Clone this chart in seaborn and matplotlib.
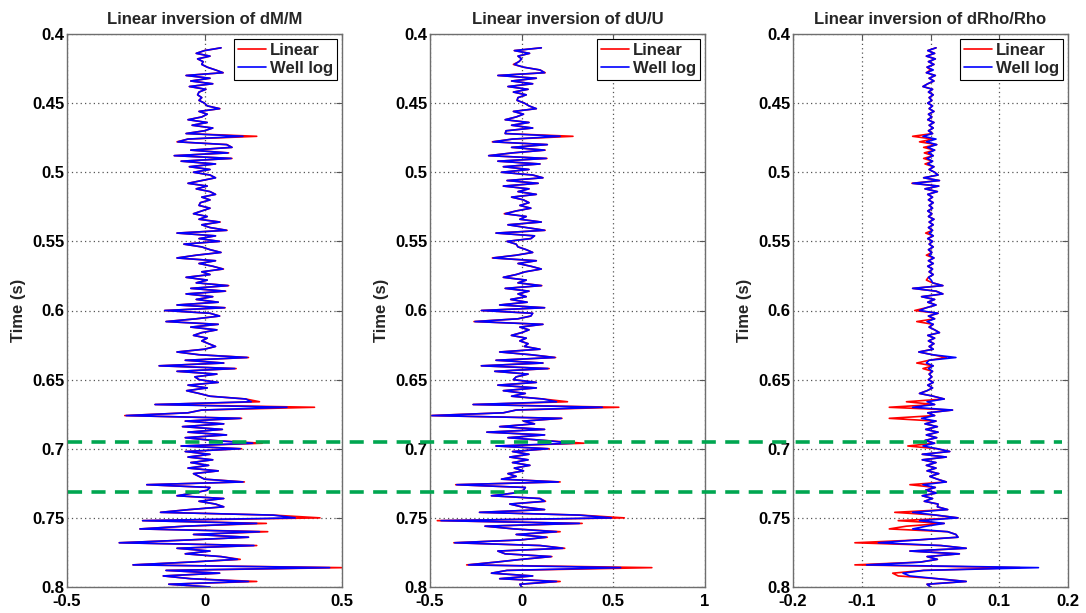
import numpy as np
import pandas as pd
import matplotlib
matplotlib.use("Agg")
import matplotlib.pyplot as plt
import seaborn as sns
from matplotlib.lines import Line2D

# Two-way time samples (s), 2 ms spacing
time_s = np.round(np.arange(0.410, 0.8001, 0.002), 3)

# ---- dM/M -------------------------------------------------------------
dm_well = [
    0.06, 0.00, -0.03, 0.02, -0.025, -0.005, -0.01, 0.01, 0.04, 0.067,
    -0.067, 0.02, -0.05, 0.03, -0.055, 0.005, -0.02, -0.025, -0.01, -0.02,
    0.00, 0.01, 0.055, -0.02, 0.01, -0.01, -0.06, 0.01, -0.045, 0.03,
    0.00, -0.067, 0.14, -0.06, -0.097, 0.08, 0.10, -0.05, 0.085, -0.11,
    0.097, -0.085, 0.04, -0.055, 0.02, -0.04, 0.02, 0.04, -0.01, -0.06,
    0.01, -0.03, 0.02, 0.04, -0.01, 0.02, -0.015, -0.02, 0.02, -0.01,
    -0.04, 0.01, -0.02, 0.055, -0.01, 0.02, 0.08, -0.10, 0.04, -0.02,
    0.055, -0.075, -0.01, 0.02, 0.06, -0.03, -0.10, 0.04, -0.02, 0.03,
    0.067, -0.01, 0.02, -0.067, 0.01, -0.03, 0.085, -0.05, 0.075, -0.067,
    0.03, -0.03, 0.05, -0.10, 0.073, -0.145, 0.02, 0.055, -0.03, -0.14,
    0.05, -0.05, 0.045, -0.01, -0.04, 0.01, -0.01, 0.015, 0.04, 0.00,
    -0.10, -0.02, 0.155, -0.07, 0.07, -0.165, 0.11, -0.10, 0.045, -0.035,
    -0.02, 0.05, -0.06, 0.01, -0.065, -0.02, 0.02, 0.15, 0.17, -0.18,
    0.30, -0.01, -0.06, -0.285, 0.13, -0.07, 0.07, -0.08, 0.065, -0.06,
    0.08, -0.07, 0.03, 0.175, -0.085, 0.13, -0.07, 0.02, -0.06, 0.03,
    -0.05, 0.015, -0.06, 0.05, -0.04, -0.02, 0.00, 0.14, -0.21, 0.02,
    0.01, -0.04, -0.10, 0.07, -0.02, 0.04, 0.07, -0.055, -0.16, 0.25,
    0.33, -0.225, 0.19, -0.07, -0.235, 0.20, -0.04, 0.16, -0.06, -0.31,
    0.18, -0.10, 0.02, -0.07, 0.06, 0.12, -0.055, -0.26, 0.455, -0.14,
    0.055, -0.15, -0.05, 0.16, -0.13, 0.02,
]
dm_linear = [
    0.06, 0.00, -0.03, 0.02, -0.025, -0.005, -0.01, 0.01, 0.04, 0.068,
    -0.067, 0.02, -0.05, 0.03, -0.055, 0.005, -0.02, -0.025, -0.01, -0.02,
    0.00, 0.01, 0.056, -0.02, 0.01, -0.01, -0.06, 0.01, -0.045, 0.03,
    0.00, -0.067, 0.19, -0.06, -0.10, 0.082, 0.10, -0.05, 0.088, -0.11,
    0.10, -0.085, 0.04, -0.055, 0.02, -0.04, 0.02, 0.04, -0.01, -0.06,
    0.01, -0.03, 0.02, 0.04, -0.01, 0.02, -0.015, -0.02, 0.02, -0.01,
    -0.04, 0.01, -0.02, 0.057, -0.01, 0.02, 0.082, -0.10, 0.04, -0.02,
    0.055, -0.075, -0.01, 0.02, 0.06, -0.03, -0.10, 0.04, -0.02, 0.03,
    0.069, -0.01, 0.02, -0.067, 0.01, -0.03, 0.088, -0.05, 0.077, -0.067,
    0.03, -0.03, 0.05, -0.10, 0.075, -0.145, 0.02, 0.055, -0.03, -0.14,
    0.05, -0.05, 0.045, -0.01, -0.04, 0.01, -0.01, 0.015, 0.04, 0.00,
    -0.10, -0.02, 0.16, -0.07, 0.07, -0.165, 0.115, -0.10, 0.045, -0.035,
    -0.02, 0.05, -0.06, 0.01, -0.065, -0.02, 0.02, 0.15, 0.20, -0.18,
    0.40, -0.01, -0.06, -0.29, 0.135, -0.07, 0.07, -0.08, 0.065, -0.06,
    0.08, -0.07, 0.03, 0.21, -0.085, 0.135, -0.07, 0.02, -0.06, 0.03,
    -0.05, 0.015, -0.06, 0.05, -0.04, -0.02, 0.00, 0.145, -0.21, 0.02,
    0.01, -0.04, -0.10, 0.07, -0.02, 0.04, 0.07, -0.055, -0.16, 0.25,
    0.42, -0.225, 0.225, -0.07, -0.235, 0.23, -0.04, 0.16, -0.06, -0.31,
    0.19, -0.10, 0.02, -0.07, 0.06, 0.13, -0.055, -0.26, 0.50, -0.14,
    0.055, -0.15, -0.05, 0.19, -0.13, 0.02,
]

# ---- dU/U -------------------------------------------------------------
du_well = [
    0.107, -0.04, 0.043, -0.02, 0.0, -0.015, -0.04, 0.01, 0.10, 0.125,
    -0.13, 0.08, -0.055, 0.06, -0.075, 0.035, -0.045, 0.025, -0.02, -0.025,
    0.015, 0.04, 0.08, -0.045, 0.01, -0.03, -0.09, 0.04, -0.055, 0.06,
    -0.085, -0.09, 0.21, -0.05, -0.156, 0.14, -0.055, 0.125, -0.05, -0.18,
    0.134, -0.13, 0.10, -0.10, 0.04, -0.11, 0.06, 0.116, -0.08, 0.09,
    -0.10, 0.04, -0.02, 0.08, -0.055, 0.01, 0.04, -0.01, 0.05, -0.03,
    -0.09, 0.025, -0.01, 0.107, -0.075, 0.025, 0.125, -0.14, 0.07, 0.05,
    -0.08, -0.03, -0.02, 0.025, 0.06, -0.03, -0.156, 0.08, -0.02, 0.05,
    0.107, 0.02, -0.03, -0.10, 0.025, -0.02, 0.107, -0.09, 0.04, -0.02,
    0.025, -0.06, 0.03, -0.12, 0.125, -0.22, 0.06, 0.05, -0.02, -0.255,
    0.116, -0.01, 0.04, 0.0, -0.056, 0.025, -0.01, 0.035, 0.015, 0.10,
    -0.12, 0.05, 0.18, -0.14, 0.116, -0.22, 0.143, -0.147, 0.035, -0.03,
    -0.045, 0.08, -0.13, 0.08, -0.10, 0.02, -0.055, 0.116, 0.19, -0.265,
    0.44, -0.03, -0.10, -0.49, 0.216, 0.01, 0.07, -0.12, 0.125, -0.19,
    0.125, -0.075, 0.125, 0.28, -0.14, 0.143, -0.05, 0.04, -0.065, 0.035,
    -0.05, 0.045, -0.04, 0.01, -0.075, -0.03, -0.11, 0.20, -0.355, 0.02,
    0.01, -0.04, -0.165, 0.10, 0.125, -0.065, 0.0, 0.125, -0.23, 0.315,
    0.49, -0.44, 0.315, -0.20, -0.04, 0.19, -0.03, 0.134, -0.01, -0.365,
    0.10, 0.225, -0.13, -0.09, 0.16, 0.0, -0.14, -0.29, 0.54, -0.08,
    -0.165, 0.06, -0.12, 0.19, -0.01, 0.0,
]
du_linear = [
    0.107, -0.04, 0.043, -0.02, 0.0, -0.015, -0.045, 0.01, 0.10, 0.128,
    -0.13, 0.08, -0.055, 0.06, -0.075, 0.035, -0.045, 0.025, -0.02, -0.025,
    0.015, 0.04, 0.08, -0.045, 0.01, -0.03, -0.09, 0.04, -0.055, 0.06,
    -0.085, -0.09, 0.28, -0.05, -0.16, 0.14, -0.055, 0.128, -0.05, -0.18,
    0.138, -0.13, 0.10, -0.10, 0.04, -0.11, 0.06, 0.116, -0.08, 0.09,
    -0.10, 0.04, -0.02, 0.08, -0.055, 0.01, 0.04, -0.01, 0.05, -0.03,
    -0.095, 0.025, -0.01, 0.107, -0.075, 0.025, 0.128, -0.14, 0.07, 0.05,
    -0.08, -0.03, -0.02, 0.025, 0.06, -0.03, -0.16, 0.08, -0.02, 0.05,
    0.107, 0.02, -0.03, -0.10, 0.025, -0.02, 0.11, -0.09, 0.04, -0.02,
    0.025, -0.06, 0.03, -0.12, 0.125, -0.22, 0.06, 0.05, -0.02, -0.26,
    0.116, -0.01, 0.04, 0.0, -0.056, 0.025, -0.01, 0.035, 0.015, 0.10,
    -0.12, 0.05, 0.185, -0.14, 0.116, -0.22, 0.15, -0.147, 0.035, -0.03,
    -0.045, 0.08, -0.13, 0.08, -0.10, 0.02, -0.055, 0.116, 0.25, -0.265,
    0.53, -0.03, -0.10, -0.50, 0.22, 0.01, 0.07, -0.12, 0.125, -0.19,
    0.125, -0.075, 0.125, 0.34, -0.14, 0.15, -0.05, 0.04, -0.065, 0.035,
    -0.05, 0.045, -0.04, 0.01, -0.075, -0.03, -0.11, 0.21, -0.36, 0.02,
    0.01, -0.04, -0.165, 0.10, 0.13, -0.065, 0.0, 0.125, -0.23, 0.32,
    0.56, -0.46, 0.33, -0.20, -0.04, 0.21, -0.03, 0.14, -0.01, -0.37,
    0.10, 0.235, -0.13, -0.09, 0.165, 0.0, -0.14, -0.30, 0.71, -0.08,
    -0.165, 0.06, -0.12, 0.21, -0.01, 0.0,
]

# ---- dRho/Rho ---------------------------------------------------------
drho_well = [
    0.008, -0.004, 0.006, -0.006, 0.007, -0.003, 0.005, -0.005, 0.004, -0.006,
    0.007, -0.002, 0.005, -0.004, -0.011, 0.003, -0.003, 0.004, -0.002, 0.002,
    -0.004, 0.003, -0.002, 0.005, -0.003, 0.002, -0.004, 0.005, -0.002, 0.004,
    -0.003, 0.003, -0.011, 0.008, -0.006, 0.009, -0.004, 0.006, -0.003, 0.004,
    -0.005, 0.003, -0.004, 0.005, -0.002, 0.006, 0.011, -0.010, 0.013, -0.026,
    0.012, -0.008, 0.010, -0.004, 0.003, -0.003, 0.004, -0.002, 0.003, -0.004,
    0.002, -0.003, 0.005, -0.002, 0.004, -0.003, 0.003, -0.002, 0.004, -0.004,
    0.003, -0.002, 0.004, -0.003, 0.002, -0.002, 0.005, -0.003, 0.004, -0.004,
    0.003, -0.002, 0.004, -0.003, 0.001, 0.003, 0.018, -0.026, 0.008, 0.018,
    -0.013, 0.006, -0.004, 0.008, -0.006, -0.016, 0.011, -0.003, 0.006, -0.005,
    0.004, -0.002, 0.006, 0.013, -0.004, 0.006, -0.003, 0.005, -0.002, 0.004,
    -0.017, 0.003, 0.037, -0.002, -0.006, 0.004, -0.003, 0.003, -0.002, 0.002,
    -0.003, 0.004, -0.004, 0.003, -0.005, -0.016, 0.004, 0.020, -0.005, 0.006,
    -0.026, 0.032, -0.004, 0.006, -0.013, 0.008, -0.008, 0.010, -0.007, 0.011,
    -0.006, 0.009, -0.008, 0.006, -0.011, 0.010, 0.028, -0.012, 0.023, -0.012,
    0.008, -0.006, 0.008, -0.005, 0.012, -0.001, 0.010, 0.023, -0.011, 0.007,
    -0.007, 0.009, -0.012, 0.003, -0.009, 0.011, 0.010, 0.025, -0.026, 0.008,
    0.040, -0.016, 0.020, -0.006, -0.026, 0.025, 0.037, 0.040, -0.020, -0.076,
    0.015, 0.052, -0.030, 0.042, -0.005, 0.010, -0.015, -0.093, 0.157, -0.010,
    -0.040, -0.030, 0.010, 0.052, -0.005, 0.000,
]
drho_linear = [
    0.008, -0.004, 0.006, -0.006, 0.007, -0.003, 0.005, -0.005, 0.000, -0.006,
    0.007, -0.002, 0.005, -0.004, -0.011, 0.003, -0.003, 0.004, -0.002, 0.002,
    -0.004, 0.003, -0.002, 0.005, -0.003, 0.002, -0.004, 0.005, -0.002, 0.004,
    -0.003, 0.003, -0.026, 0.004, -0.016, 0.009, -0.010, 0.006, -0.009, 0.004,
    -0.010, 0.003, -0.008, 0.005, -0.002, 0.006, 0.011, -0.010, 0.013, -0.027,
    0.012, -0.008, 0.010, -0.004, 0.003, -0.003, 0.004, -0.002, 0.003, -0.004,
    0.002, -0.003, 0.005, -0.002, 0.004, -0.003, 0.003, -0.007, 0.004, -0.004,
    0.003, -0.002, 0.004, -0.003, 0.002, -0.006, 0.005, -0.003, 0.004, -0.004,
    0.003, -0.002, 0.004, -0.003, -0.006, 0.003, 0.018, -0.026, 0.008, 0.018,
    -0.013, 0.006, -0.004, 0.008, -0.006, -0.023, 0.011, -0.003, 0.006, -0.020,
    0.004, -0.002, 0.006, 0.013, -0.004, 0.006, -0.003, 0.005, -0.002, 0.004,
    -0.017, 0.003, 0.023, -0.002, -0.020, 0.004, -0.011, 0.003, -0.002, 0.002,
    -0.003, 0.004, -0.004, 0.003, -0.005, -0.016, 0.004, 0.020, -0.035, 0.006,
    -0.060, 0.032, -0.004, 0.006, -0.060, 0.008, -0.008, 0.010, -0.007, 0.011,
    -0.006, 0.009, -0.008, 0.006, -0.033, 0.010, 0.028, -0.012, 0.023, -0.012,
    0.008, -0.006, 0.008, -0.005, 0.012, -0.001, 0.010, 0.023, -0.030, 0.007,
    -0.007, 0.009, -0.012, 0.003, -0.009, 0.011, 0.010, 0.025, -0.052, 0.008,
    0.040, -0.047, 0.020, -0.035, -0.060, 0.025, 0.037, 0.040, -0.020, -0.110,
    0.015, 0.052, -0.030, 0.042, -0.005, 0.010, -0.015, -0.110, 0.130, -0.010,
    -0.055, -0.047, 0.010, 0.052, -0.005, 0.000,
]

titles = ["Linear inversion of dM/M", "Linear inversion of dU/U",
          "Linear inversion of dRho/Rho"]
x_limits = [(-0.5, 0.5), (-0.5, 1.0), (-0.2, 0.2)]
x_ticks = [[-0.5, 0, 0.5], [-0.5, 0, 0.5, 1], [-0.2, -0.1, 0, 0.1, 0.2]]
x_ticklabels = [["-0.5", "0", "0.5"], ["-0.5", "0", "0.5", "1"],
                ["-0.2", "-0.1", "0", "0.1", "0.2"]]
y_ticks = [0.4, 0.45, 0.5, 0.55, 0.6, 0.65, 0.7, 0.75, 0.8]
y_ticklabels = ["0.4", "0.45", "0.5", "0.55", "0.6", "0.65", "0.7", "0.75", "0.8"]
horizon_times = [0.6949, 0.7315]

linear_series = [dm_linear, du_linear, drho_linear]
well_series = [dm_well, du_well, drho_well]

sns.set_theme(style="white")
plt.rcParams["font.family"] = ["Liberation Sans", "DejaVu Sans"]
plt.rcParams["axes.unicode_minus"] = False

W, H = 1086, 613
fig = plt.figure(figsize=(W / 100, H / 100), dpi=100)
fig.patch.set_facecolor("white")

ax_lefts = [67, 430, 793]
ax_w, ax_top, ax_bot = 275, 34, 587

axes = []
for k in range(3):
    ax = fig.add_axes([ax_lefts[k] / W, 1 - ax_bot / H, ax_w / W, (ax_bot - ax_top) / H])
    df = pd.DataFrame({"time": time_s, "Linear": linear_series[k], "Well log": well_series[k]})
    sns.lineplot(data=df, x="Linear", y="time", orient="y", sort=False, estimator=None,
                 color="#ff0000", lw=1.2, ax=ax, label="Linear")
    sns.lineplot(data=df, x="Well log", y="time", orient="y", sort=False, estimator=None,
                 color="#0000ff", lw=1.2, ax=ax, label="Well log")

    ax.set_xlim(*x_limits[k])
    ax.set_ylim(0.8, 0.4)
    ax.set_xticks(x_ticks[k])
    ax.set_xticklabels(x_ticklabels[k])
    ax.set_yticks(y_ticks)
    ax.set_yticklabels(y_ticklabels)
    ax.grid(True, color="#555555", linestyle=(0, (1, 2.5)), lw=0.9)
    ax.set_axisbelow(True)
    ax.tick_params(direction="in", length=4, width=0.8, top=True, right=True,
                   labelsize=12, pad=2, colors="#555555", labelcolor="black")
    ax.tick_params(axis="x", pad=5)
    for lab in ax.get_xticklabels() + ax.get_yticklabels():
        lab.set_fontweight("bold")
    for sp in ax.spines.values():
        sp.set_color("#6e6e6e")
        sp.set_linewidth(1.0)
    ax.set_xlabel("")
    ax.set_ylabel("Time (s)", fontsize=12, fontweight="bold", labelpad=4)
    ax.set_title(titles[k], fontsize=12, fontweight="bold", pad=7)
    leg = ax.legend(loc="upper right", prop={"weight": "bold", "size": 12},
                    frameon=True, fancybox=False, edgecolor="black", framealpha=1,
                    borderaxespad=0.3, handlelength=1.7, handletextpad=0.2,
                    borderpad=0.25, labelspacing=0.15)
    leg.get_frame().set_linewidth(0.8)
    axes.append(ax)

# Horizon markers spanning all three tracks
fig.canvas.draw()
inv = fig.transFigure.inverted()
for t in horizon_times:
    y_disp = axes[0].transData.transform((0, t))[1]
    y_fig = inv.transform((0, y_disp))[1]
    fig.add_artist(Line2D([68 / W, 1062 / W], [y_fig, y_fig], transform=fig.transFigure,
                          color="#00a650", lw=2.6, dashes=(3.9, 2.6), zorder=10))

fig.savefig("out.png", dpi=100, facecolor="white")
